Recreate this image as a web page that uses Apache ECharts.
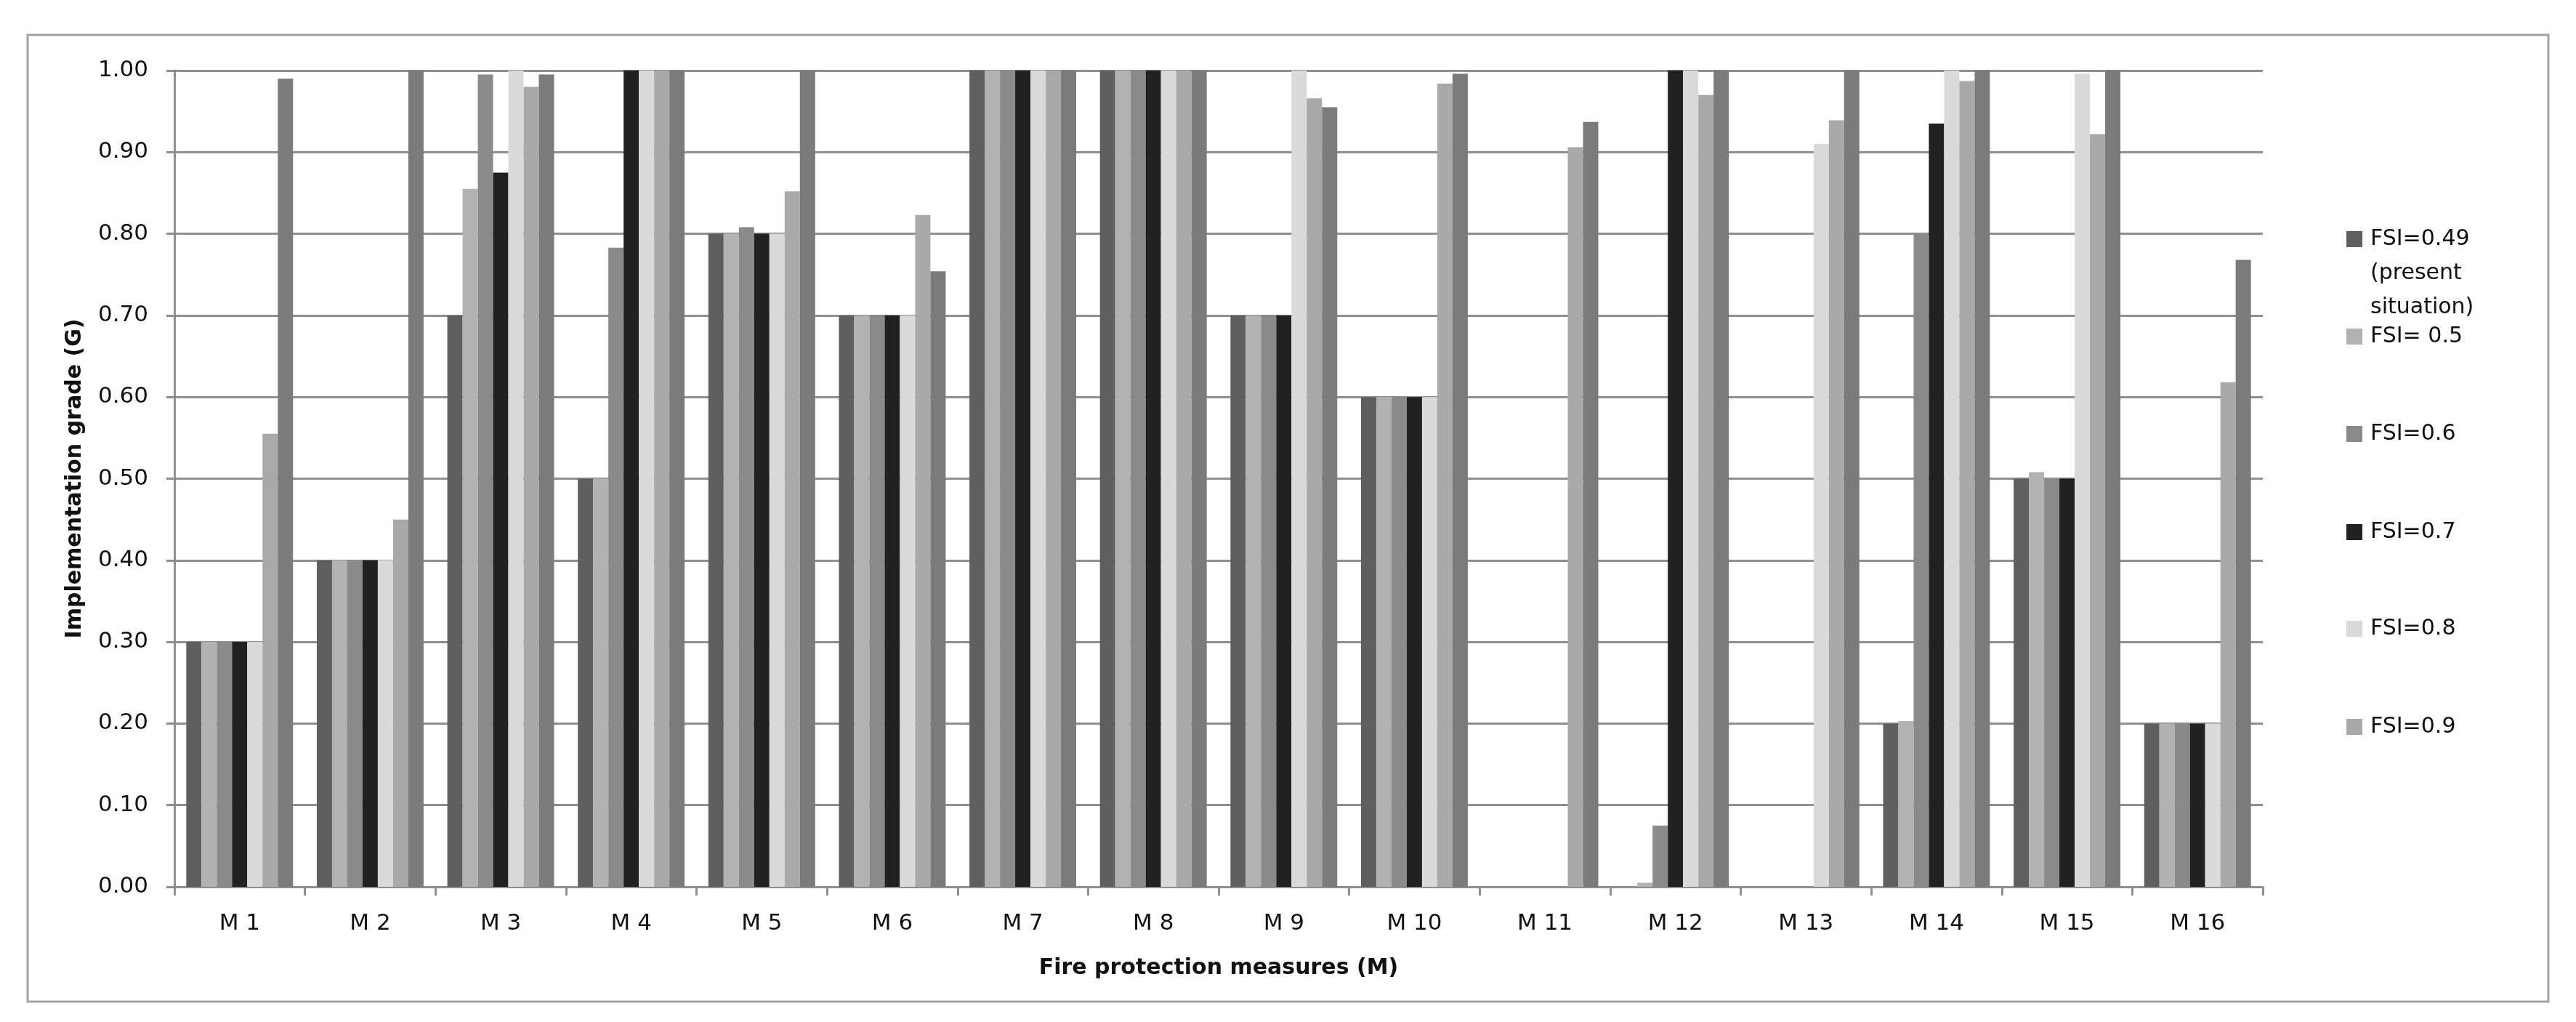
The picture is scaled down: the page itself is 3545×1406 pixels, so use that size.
<!DOCTYPE html>
<html>
<head>
<meta charset="utf-8">
<script src="https://cdn.jsdelivr.net/npm/echarts@6/dist/echarts.min.js"></script>
<style>
  html, body { margin: 0; padding: 0; background: #ffffff; }
  #chart { width: 3545px; height: 1406px; }
</style>
</head>
<body>
<div id="chart"></div>
<script>
// ---- data ----
var categories = ['M 1','M 2','M 3','M 4','M 5','M 6','M 7','M 8','M 9','M 10','M 11','M 12','M 13','M 14','M 15','M 16'];
var seriesNames = ['FSI=0.49', 'FSI= 0.5', 'FSI=0.6', 'FSI=0.7', 'FSI=0.8', 'FSI=0.9', 'FSI=1.0'];
var fsi049 = [0.30, 0.40, 0.70, 0.50, 0.80, 0.70, 1.00, 1.00, 0.70, 0.60, 0, 0, 0, 0.20, 0.50, 0.20];
var fsi05  = [0.30, 0.40, 0.855, 0.50, 0.80, 0.70, 1.00, 1.00, 0.70, 0.60, 0, 0.005, 0, 0.203, 0.508, 0.20];
var fsi06  = [0.30, 0.40, 0.995, 0.783, 0.808, 0.70, 1.00, 1.00, 0.70, 0.60, 0, 0.075, 0, 0.80, 0.50, 0.20];
var fsi07  = [0.30, 0.40, 0.875, 1.00, 0.80, 0.70, 1.00, 1.00, 0.70, 0.60, 0, 1.00, 0, 0.935, 0.50, 0.20];
var fsi08  = [0.30, 0.40, 1.00, 1.00, 0.80, 0.70, 1.00, 1.00, 1.00, 0.60, 0, 1.00, 0.91, 1.00, 0.996, 0.20];
var fsi09  = [0.555, 0.45, 0.98, 1.00, 0.852, 0.823, 1.00, 1.00, 0.966, 0.984, 0.906, 0.97, 0.939, 0.987, 0.922, 0.618];
var fsi10  = [0.99, 1.00, 0.995, 1.00, 1.00, 0.754, 1.00, 1.00, 0.955, 0.996, 0.937, 1.00, 1.00, 1.00, 1.00, 0.768];
var yTicks = { min: 0, max: 1, interval: 0.1 };

var seriesData = [fsi049, fsi05, fsi06, fsi07, fsi08, fsi09, fsi10];
var colors = ['#5f5f5f', '#b2b2b2', '#8a8a8a', '#212121', '#dadada', '#a9a9a9', '#7b7b7b'];

var FONT = 'DejaVu Sans';
var gridColor = '#8f8f8f';

var series = seriesData.map(function (d, i) {
  return {
    name: seriesNames[i],
    type: 'bar',
    data: d,
    barGap: '0%',
    barCategoryGap: '18.2%',
    itemStyle: { color: colors[i] },
    emphasis: { disabled: true },
    animation: false
  };
});

// legend entries (the 7th series has no entry in the reference legend)
var legendCenters = [329, 463, 597, 732, 865, 1000];
var LH = 47;
var legends = legendCenters.map(function (cy, i) {
  var isFirst = i === 0;
  return {
    show: true,
    orient: 'vertical',
    left: 3229,
    top: isFirst ? cy - 2.5 * LH : cy - LH / 2,
    padding: 0,
    itemWidth: 22,
    itemHeight: 22,
    icon: 'rect',
    selectedMode: false,
    data: [seriesNames[i]],
    formatter: isFirst ? function (n) { return '\u00a0\n\u00a0\n' + n + '\n(present\nsituation)'; } : undefined,
    textStyle: {
      fontFamily: FONT,
      fontSize: 30,
      color: '#111111',
      lineHeight: LH,
      padding: [0, 0, 0, 6]
    }
  };
});

var option = {
  backgroundColor: '#ffffff',
  animation: false,
  color: colors,
  grid: { left: 240, right: 431, top: 97, bottom: 186, containLabel: false },
  legend: legends,
  xAxis: {
    type: 'category',
    data: categories,
    axisLine: { show: true, lineStyle: { color: gridColor, width: 3 } },
    axisTick: { show: true, length: 12, interval: 0, lineStyle: { color: gridColor, width: 3 } },
    axisLabel: { interval: 0, margin: 35, fontFamily: FONT, fontSize: 31, color: '#111111' },
    splitLine: { show: false },
    name: 'Fire protection measures (M)',
    nameLocation: 'middle',
    nameGap: 97,
    nameTextStyle: { fontFamily: FONT, fontWeight: 'bold', fontSize: 30, color: '#111111' }
  },
  yAxis: {
    type: 'value',
    min: yTicks.min,
    max: yTicks.max,
    interval: yTicks.interval,
    axisLine: { show: true, lineStyle: { color: gridColor, width: 3 } },
    axisTick: { show: true, length: 11, lineStyle: { color: gridColor, width: 3 } },
    axisLabel: {
      margin: 36,
      fontFamily: FONT,
      fontSize: 31,
      color: '#111111',
      formatter: function (v) { return v.toFixed(2); }
    },
    splitLine: { show: true, lineStyle: { color: gridColor, width: 3 } },
    name: 'Implementation grade (G)',
    nameLocation: 'middle',
    nameRotate: 90,
    nameGap: 122,
    nameTextStyle: { fontFamily: FONT, fontWeight: 'bold', fontSize: 30, color: '#111111' }
  },
  graphic: [
    {
      type: 'rect',
      z: -10,
      silent: true,
      shape: { x: 38, y: 48, width: 3469, height: 1330 },
      style: { fill: 'none', stroke: '#a3a3a3', lineWidth: 3 }
    }
  ],
  series: series
};

var chart = echarts.init(document.getElementById('chart'), null, { renderer: 'canvas' });
chart.setOption(option);
</script>
</body>
</html>
